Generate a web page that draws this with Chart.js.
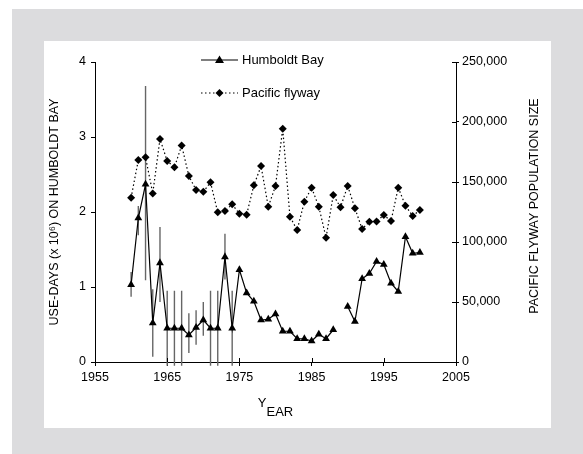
<!DOCTYPE html>
<html>
<head>
<meta charset="utf-8">
<script src="https://cdn.jsdelivr.net/npm/chart.js@4.4.0/dist/chart.umd.min.js"></script>
<style>
  html, body { margin: 0; padding: 0; background: #fff; }
  #frame { position: absolute; left: 12px; top: 9px; width: 571px; height: 445px; background: #dcdcde; }
  #panel { position: absolute; left: 44px; top: 41px; width: 507px; height: 387px; background: #fff; }
  #wrap { position: absolute; left: 0; top: 0; width: 583px; height: 454px; }
</style>
</head>
<body>
<div id="frame"></div>
<div id="panel"></div>
<div id="wrap"><canvas id="graph"></canvas></div>
<script>
// Years 1960-2000
const years = [1960, 1961, 1962, 1963, 1964, 1965, 1966, 1967, 1968, 1969,
  1970, 1971, 1972, 1973, 1974, 1975, 1976, 1977, 1978, 1979,
  1980, 1981, 1982, 1983, 1984, 1985, 1986, 1987, 1988, 1989,
  1990, 1991, 1992, 1993, 1994, 1995, 1996, 1997, 1998, 1999, 2000];

// Humboldt Bay use-days (x 10^6), 1989 missing
const humboldt = [1.03, 1.92, 2.37, 0.52, 1.32, 0.45, 0.45, 0.45, 0.36, 0.46,
  0.56, 0.45, 0.45, 1.40, 0.45, 1.23, 0.92, 0.81, 0.56, 0.57,
  0.64, 0.41, 0.41, 0.31, 0.31, 0.28, 0.37, 0.31, 0.43, null,
  0.74, 0.54, 1.11, 1.18, 1.34, 1.30, 1.05, 0.94, 1.67, 1.45, 1.46];

// error bar ends for Humboldt Bay (only early years)
const errLow = [0.87, 1.69, 1.09, 0.07, 0.80, -0.05, -0.05, -0.05, 0.12, 0.23,
  0.35, -0.05, -0.05, 1.10, -0.05];
const errHigh = [1.20, 2.08, 3.68, 0.97, 1.80, 0.95, 0.95, 0.95, 0.65, 0.69,
  0.80, 0.95, 0.95, 1.71, 0.95];

// Pacific flyway population size
const pacific = [136900, 168300, 170600, 140500, 185800, 167500, 162200, 180500, 155000, 143300,
  141900, 149700, 124700, 125800, 131400, 123600, 122800, 147200, 163300, 129400,
  146700, 194400, 121100, 110000, 133600, 145300, 129400, 103600, 139200, 128900,
  146700, 128100, 110800, 116900, 117000, 122500, 117500, 145300, 130300, 121700, 126700];

const xTicks = [1955, 1965, 1975, 1985, 1995, 2005];

const FONT = "'Liberation Sans', Arial, Helvetica, sans-serif";

// error bars drawn through the chart scales
const errorBars = {
  id: "errorBars",
  beforeDatasetsDraw(chart) {
    const ctx = chart.ctx;
    const x = chart.scales.x, y = chart.scales.y;
    ctx.save();
    ctx.strokeStyle = "#666";
    ctx.lineWidth = 1.4;
    for (let i = 0; i < errLow.length; i++) {
      const px = x.getPixelForValue(years[i]);
      ctx.beginPath();
      ctx.moveTo(px, y.getPixelForValue(errLow[i]));
      ctx.lineTo(px, y.getPixelForValue(errHigh[i]));
      ctx.stroke();
    }
    ctx.restore();
  }
};

// ticks that also cross into the plot, titles and the legend
const extras = {
  id: "extras",
  afterDraw(chart) {
    const ctx = chart.ctx;
    const area = chart.chartArea;
    ctx.save();
    ctx.strokeStyle = "#000";
    ctx.lineWidth = 1;
    chart.scales.x.ticks.forEach(t => {
      const px = Math.round(chart.scales.x.getPixelForValue(t.value)) + 0.5;
      ctx.beginPath(); ctx.moveTo(px, area.bottom); ctx.lineTo(px, area.bottom - 4); ctx.stroke();
    });
    chart.scales.y2.ticks.forEach(t => {
      const py = Math.round(chart.scales.y2.getPixelForValue(t.value)) + 0.5;
      ctx.beginPath(); ctx.moveTo(area.right, py); ctx.lineTo(area.right - 4, py); ctx.stroke();
    });

    ctx.fillStyle = "#000";
    // left title
    ctx.font = "12.5px " + FONT;
    ctx.textAlign = "center";
    ctx.textBaseline = "middle";
    ctx.save();
    ctx.translate(area.left - 40, (area.top + area.bottom) / 2);
    ctx.rotate(-Math.PI / 2);
    ctx.fillText("USE-DAYS (x 10\u2076) ON HUMBOLDT BAY", 0, 0);
    ctx.restore();
    // right title
    ctx.save();
    ctx.translate(area.right + 79, (area.top + area.bottom) / 2 - 6);
    ctx.rotate(-Math.PI / 2);
    ctx.fillText("PACIFIC FLYWAY POPULATION SIZE", 0, 0);
    ctx.restore();
    // x title, small-caps style
    ctx.font = "13px " + FONT;
    ctx.textBaseline = "alphabetic";
    ctx.textAlign = "left";
    const cx = (area.left + area.right) / 2;
    const wY = ctx.measureText("Y").width, wE = ctx.measureText("EAR").width;
    const x0 = cx - (wY + wE) / 2;
    ctx.fillText("Y", x0, area.bottom + 45);
    ctx.fillText("EAR", x0 + wY, area.bottom + 54);

    // legend
    const lx = 201, lw = 37;
    ctx.font = "13px " + FONT;
    ctx.textBaseline = "middle";
    ctx.lineWidth = 1.2;
    ctx.beginPath(); ctx.moveTo(lx, 60); ctx.lineTo(lx + lw, 60); ctx.stroke();
    ctx.beginPath();
    ctx.moveTo(lx + lw / 2, 55.5); ctx.lineTo(lx + lw / 2 + 4.5, 63); ctx.lineTo(lx + lw / 2 - 4.5, 63);
    ctx.closePath(); ctx.fill();
    ctx.fillText("Humboldt Bay", 242, 60);
    ctx.setLineDash([1.5, 2.5]);
    ctx.beginPath(); ctx.moveTo(lx, 93); ctx.lineTo(lx + lw, 93); ctx.stroke();
    ctx.setLineDash([]);
    ctx.beginPath();
    ctx.moveTo(lx + lw / 2, 89); ctx.lineTo(lx + lw / 2 + 4, 93); ctx.lineTo(lx + lw / 2, 97); ctx.lineTo(lx + lw / 2 - 4, 93);
    ctx.closePath(); ctx.fill();
    ctx.fillText("Pacific flyway", 242, 93);
    ctx.restore();
  }
};

const ctx = document.getElementById("graph").getContext("2d");
new Chart(ctx, {
  type: "line",
  data: {
    datasets: [{
      label: "Pacific flyway",
      data: years.map((yr, i) => ({ x: yr, y: pacific[i] })),
      yAxisID: "y2",
      borderColor: "#000",
      borderWidth: 1.2,
      borderDash: [1.5, 2.5],
      pointStyle: "rectRot",
      pointRadius: 4,
      pointBackgroundColor: "#000",
      pointBorderColor: "#000",
      pointBorderWidth: 0,
      tension: 0
    }, {
      label: "Humboldt Bay",
      data: years.map((yr, i) => ({ x: yr, y: humboldt[i] })),
      yAxisID: "y",
      borderColor: "#000",
      borderWidth: 1.2,
      pointStyle: "triangle",
      pointRadius: 4.5,
      pointBackgroundColor: "#000",
      pointBorderColor: "#000",
      pointBorderWidth: 0,
      spanGaps: false,
      tension: 0
    }]
  },
  options: {
    responsive: true,
    maintainAspectRatio: false,
    animation: false,
    layout: { padding: { left: 44, top: 62, right: 0, bottom: 0 } },
    plugins: { legend: { display: false }, tooltip: { enabled: false } },
    scales: {
      x: {
        type: "linear",
        min: 1955, max: 2005,
        afterBuildTicks: scale => { scale.ticks = xTicks.map(v => ({ value: v })); },
        afterFit: scale => { scale.height = 92; },
        grid: { drawOnChartArea: false, tickLength: 4, color: "#000" },
        border: { display: true, color: "#000", width: 1 },
        ticks: { padding: 4, color: "#000", font: { family: FONT, size: 12.5 }, callback: v => String(v) }
      },
      y: {
        position: "left",
        min: 0, max: 4,
        afterFit: scale => { scale.width = 51; },
        grid: { drawOnChartArea: false, tickLength: 4, color: "#000" },
        border: { display: true, color: "#000", width: 1 },
        ticks: { stepSize: 1, padding: 5, color: "#000", font: { family: FONT, size: 12.5 } }
      },
      y2: {
        position: "right",
        min: 0, max: 250000,
        afterFit: scale => { scale.width = 127; },
        grid: { drawOnChartArea: false, tickLength: 3, color: "#000" },
        border: { display: true, color: "#000", width: 1 },
        ticks: { stepSize: 50000, padding: 3, color: "#000", font: { family: FONT, size: 12.5 },
          callback: v => v.toLocaleString("en-US") }
      }
    }
  },
  plugins: [errorBars, extras]
});
</script>
</body>
</html>
